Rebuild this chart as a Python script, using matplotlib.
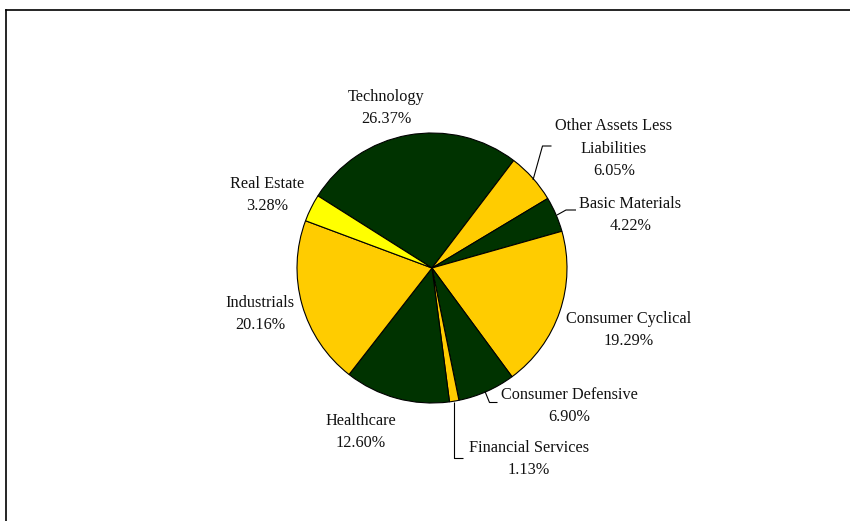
import matplotlib
matplotlib.use("Agg")
import matplotlib.pyplot as plt

# Sector allocation (% of net assets), clockwise from Technology
sectors = [
    "Technology",
    "Other Assets Less\nLiabilities",
    "Basic Materials",
    "Consumer Cyclical",
    "Consumer Defensive",
    "Financial Services",
    "Healthcare",
    "Industrials",
    "Real Estate",
]
weights = [26.37, 6.05, 4.22, 19.29, 6.90, 1.13, 12.60, 20.16, 3.28]

GREEN = "#003300"
GOLD = "#FFCC00"
YELLOW = "#FFFF00"
slice_colors = [GREEN, GOLD, GREEN, GOLD, GREEN, GOLD, GREEN, GOLD, YELLOW]

W, H = 850, 521
FONT = "Liberation Serif"
FS = 11.7
LINE_GAP = 22.3

# label block centres (pixel coords, y measured from top)
label_pos = [
    (386, 106.7),
    (614, 147.5),
    (630.5, 214.0),
    (629, 329.0),
    (569.5, 405.0),
    (529, 458.0),
    (361, 430.5),
    (260, 312.5),
    (267.5, 194.0),
]

# leader lines for labels that sit away from their slice (pixel coords, y from top)
leaders = {
    1: [(533, 180), (542.5, 146), (551.5, 146)],
    2: [(557, 215), (566, 210), (576, 210)],
    4: [(485, 391.5), (489.5, 402.5), (497.5, 402.5)],
    5: [(454.5, 401.5), (454.5, 457.5), (463.5, 457.5)],
}

fig = plt.figure(figsize=(W / 100, H / 100), dpi=100)
ax = fig.add_axes([0, 0, 1, 1])

ax.pie(
    weights,
    colors=slice_colors,
    startangle=147.7,
    counterclock=False,
    center=(432, H - 268),
    radius=135,
    wedgeprops=dict(edgecolor="black", linewidth=0.8),
)

for i, (name, w) in enumerate(zip(sectors, weights)):
    lines = name.split("\n") + [f"{w:.2f}%"]
    cx, cy = label_pos[i]
    n = len(lines)
    for k, txt in enumerate(lines):
        ly = cy + (k - (n - 1) / 2) * LINE_GAP
        ax.text(cx, H - (ly + 5.3), txt, ha="center", va="baseline",
                fontsize=FS, family=FONT, color="#111111")

for pts in leaders.values():
    xs = [p[0] for p in pts]
    ys = [H - p[1] for p in pts]
    ax.plot(xs, ys, color="black", linewidth=0.8, solid_capstyle="butt")

# outer frame (top and left edges)
ax.plot([6.5, W], [H - 9.8, H - 9.8], color="black", linewidth=1.2)
ax.plot([6.5, 6.5], [H - 9.8, 0], color="black", linewidth=1.2)

ax.set_xlim(0, W)
ax.set_ylim(0, H)
ax.set_aspect("auto")
ax.axis("off")

fig.savefig("out.png", dpi=100, facecolor="white")
